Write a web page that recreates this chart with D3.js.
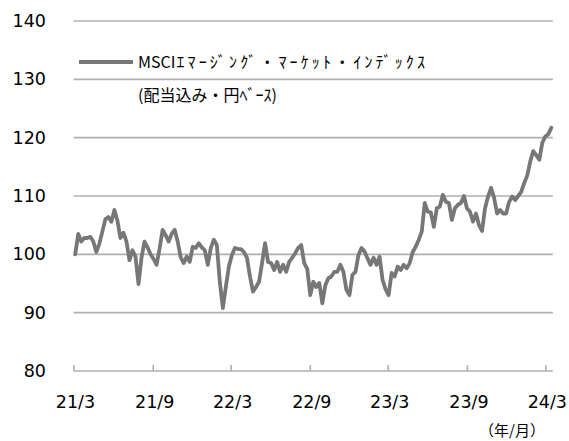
<!DOCTYPE html>
<html>
<head>
<meta charset="utf-8">
<script src="https://cdn.jsdelivr.net/npm/d3@7"></script>
<style>
  html, body { margin: 0; padding: 0; background: #fff; }
  svg { display: block; }
</style>
</head>
<body>
<svg id="chart" width="569" height="441"></svg>
<script>
// ---- data ----
const seriesNameLatin = "MSCI";
const seriesNameKana = "ｴﾏｰｼﾞﾝｸﾞ・ﾏｰｹｯﾄ・ｲﾝﾃﾞｯｸｽ";
const seriesNote = "(配当込み・円ﾍﾞｰｽ)";
const firstWeek = "2021-03-05"; // weekly observations
const values = [
  100, 103.5, 102.2, 102.8, 102.8, 103, 102.2, 100.4, 101.8, 103.9,
  106, 106.4, 105.6, 107.6, 105.8, 102.8, 103.7, 102.2, 99, 100.7,
  99.6, 94.9, 99.4, 102.2, 101.2, 100, 99.2, 98.2, 101, 104.2,
  103.3, 102.2, 103.5, 104.2, 102.2, 99.5, 98.5, 99.6, 98.7, 101.3,
  101.1, 101.9, 101.2, 100.7, 98.2, 101.1, 102.5, 101.6, 95.2, 90.8,
  94.5, 97.9, 99.9, 101.1, 100.9, 100.9, 100.4, 99.4, 96.2, 93.6,
  94.4, 95.3, 98.5, 101.9, 98.7, 98.5, 97.3, 98.7, 97, 98.2,
  97, 98.7, 99.4, 100.2, 101.1, 101.6, 98.5, 97.5, 93, 95.3,
  94.4, 95.1, 91.6, 94.7, 95.9, 96.2, 97, 97, 98.2, 97,
  93.9, 93, 96.5, 97, 99.9, 101.1, 100.5, 99.3, 98.2, 99.4,
  98.2, 99.6, 95.6, 94, 93, 96.8, 96.2, 97.9, 97.3, 98.2,
  97.6, 98.5, 100.4, 101.3, 102.5, 103.9, 108.8, 107.3, 107.2, 104.7,
  107.9, 108.2, 110.2, 109, 108.8, 105.9, 107.9, 108.5, 108.8, 110,
  107.9, 107.3, 105.6, 107, 105, 104, 107.9, 109.9, 111.4, 109.7,
  107, 107.6, 107, 107, 109, 109.9, 109.3, 110, 110.7, 112.2,
  113.5, 115.9, 117.7, 117, 116.2, 119.1, 120.2, 120.6, 121.7
];
const yTicks = [80, 90, 100, 110, 120, 130, 140];
const xTickDates = ["2021-03-01", "2021-09-01", "2022-03-01", "2022-09-01", "2023-03-01", "2023-09-01", "2024-03-01"];
const xTickLabels = ["21/3", "21/9", "22/3", "22/9", "23/3", "23/9", "24/3"];
const unitLabel = "（年/月）";

// ---- build ----
const parse = d3.utcParse("%Y-%m-%d");
const start = parse(firstWeek);
const data = values.map((v, i) => ({ date: d3.utcDay.offset(start, 7 * i), value: v }));
const tickDates = xTickDates.map(parse);

const svg = d3.select("#chart");
const lineColor = "#777777";
const gridColor = "#b0b0b0";
const numFont = "'DejaVu Sans', Verdana, sans-serif";
const jpFont = "'Noto Sans CJK JP', sans-serif";

const x = d3.scaleUtc().domain([tickDates[0], tickDates[tickDates.length - 1]]).range([73.5, 545.3]);
const y = d3.scaleLinear().domain([80, 140]).range([371, 21]);

const xEnd = x(data[data.length - 1].date) + 1.5;

// gridlines
svg.append("g").selectAll("line").data(yTicks.filter(t => t !== 80)).join("line")
  .attr("x1", x.range()[0]).attr("x2", xEnd)
  .attr("y1", d => y(d)).attr("y2", d => y(d))
  .attr("stroke", gridColor).attr("stroke-width", 1.6);

// y axis labels
const yAxis = svg.append("g").attr("transform", `translate(${x.range()[0]},0)`)
  .call(d3.axisLeft(y).tickValues(yTicks).tickSize(0).tickPadding(27.5));
yAxis.select(".domain").remove();
yAxis.selectAll("text").attr("font-family", numFont).attr("font-size", 17.5).attr("fill", "#000");

// x axis
const xAxis = svg.append("g").attr("transform", `translate(0,${y(80)})`)
  .call(d3.axisBottom(x).tickValues(tickDates).tickFormat((d, i) => xTickLabels[i])
    .tickSizeInner(-6).tickSizeOuter(0).tickPadding(25));
xAxis.select(".domain").remove();
xAxis.append("line").attr("x1", x.range()[0]).attr("x2", xEnd).attr("y1", 0).attr("y2", 0)
  .attr("stroke", gridColor).attr("stroke-width", 1.6);
xAxis.selectAll(".tick line").attr("stroke", gridColor).attr("stroke-width", 1.6);
xAxis.selectAll("text").attr("font-family", numFont).attr("font-size", 17.5).attr("fill", "#000")
  .attr("dx", 1.5);

// series line
const line = d3.line().x(d => x(d.date)).y(d => y(d.value));
svg.append("path").datum(data)
  .attr("d", line)
  .attr("fill", "none").attr("stroke", lineColor).attr("stroke-width", 3.8)
  .attr("stroke-linejoin", "round").attr("stroke-linecap", "round");

// legend
svg.append("line").attr("x1", 79).attr("x2", 133).attr("y1", 62).attr("y2", 62)
  .attr("stroke", lineColor).attr("stroke-width", 4);
const latin = svg.append("text").attr("x", 138).attr("y", 68)
  .attr("font-family", jpFont).attr("font-size", 16).attr("fill", "#000")
  .text(seriesNameLatin);
const kanaStart = 138 + latin.node().getComputedTextLength() + 1;
svg.append("text").attr("x", kanaStart).attr("y", 68)
  .attr("font-family", jpFont).attr("font-size", 16).attr("fill", "#000")
  .attr("textLength", 425 - kanaStart).attr("lengthAdjust", "spacing")
  .text(seriesNameKana);
svg.append("text").attr("x", 138).attr("y", 101)
  .attr("font-family", jpFont).attr("font-size", 16).attr("fill", "#000")
  .text(seriesNote);

// unit label
svg.append("text").attr("x", 545).attr("y", 436).attr("text-anchor", "end")
  .attr("font-family", jpFont).attr("font-size", 15).attr("fill", "#000")
  .text(unitLabel);
</script>
</body>
</html>
